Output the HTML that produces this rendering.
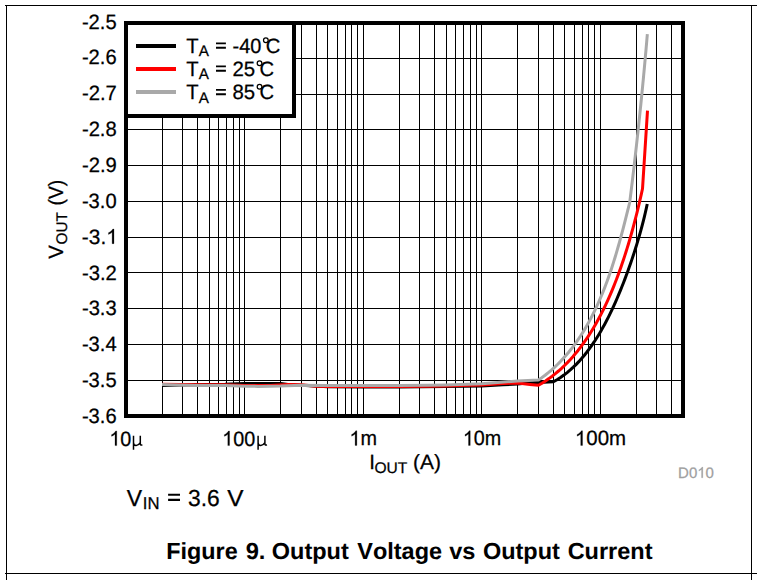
<!DOCTYPE html>
<html><head><meta charset="utf-8"><title>Figure 9. Output Voltage vs Output Current</title>
<style>
html,body{margin:0;padding:0;background:#fff;}
body{width:757px;height:580px;position:relative;overflow:hidden;font-family:"Liberation Sans",sans-serif;}
text{white-space:pre;text-rendering:geometricPrecision;font-kerning:none;}
</style></head><body>
<svg width="757" height="580" viewBox="0 0 757 580" style="position:absolute;left:0;top:0">
<g fill="#000" shape-rendering="crispEdges">
<rect x="5" y="5" width="752" height="1"/>
<rect x="6" y="5" width="1" height="575"/>
<rect x="751" y="5" width="1" height="575"/>
<rect x="5" y="573" width="752" height="1"/>
<rect x="162" y="24" width="1" height="391"/>
<rect x="182" y="24" width="1" height="391"/>
<rect x="197" y="24" width="1" height="391"/>
<rect x="209" y="24" width="1" height="391"/>
<rect x="218" y="24" width="1" height="391"/>
<rect x="226" y="24" width="1" height="391"/>
<rect x="233" y="24" width="1" height="391"/>
<rect x="239" y="24" width="1" height="391"/>
<rect x="244" y="24" width="1" height="391"/>
<rect x="280" y="24" width="1" height="391"/>
<rect x="301" y="24" width="1" height="391"/>
<rect x="316" y="24" width="1" height="391"/>
<rect x="327" y="24" width="1" height="391"/>
<rect x="337" y="24" width="1" height="391"/>
<rect x="345" y="24" width="1" height="391"/>
<rect x="351" y="24" width="1" height="391"/>
<rect x="357" y="24" width="1" height="391"/>
<rect x="363" y="24" width="1" height="391"/>
<rect x="399" y="24" width="1" height="391"/>
<rect x="419" y="24" width="1" height="391"/>
<rect x="434" y="24" width="1" height="391"/>
<rect x="446" y="24" width="1" height="391"/>
<rect x="455" y="24" width="1" height="391"/>
<rect x="463" y="24" width="1" height="391"/>
<rect x="470" y="24" width="1" height="391"/>
<rect x="476" y="24" width="1" height="391"/>
<rect x="481" y="24" width="1" height="391"/>
<rect x="517" y="24" width="1" height="391"/>
<rect x="538" y="24" width="1" height="391"/>
<rect x="553" y="24" width="1" height="391"/>
<rect x="564" y="24" width="1" height="391"/>
<rect x="574" y="24" width="1" height="391"/>
<rect x="582" y="24" width="1" height="391"/>
<rect x="588" y="24" width="1" height="391"/>
<rect x="594" y="24" width="1" height="391"/>
<rect x="600" y="24" width="1" height="391"/>
<rect x="636" y="24" width="1" height="391"/>
<rect x="656" y="24" width="1" height="391"/>
<rect x="671" y="24" width="1" height="391"/>
<rect x="127" y="58" width="555" height="1"/>
<rect x="127" y="94" width="555" height="1"/>
<rect x="127" y="129" width="555" height="1"/>
<rect x="127" y="165" width="555" height="1"/>
<rect x="127" y="201" width="555" height="1"/>
<rect x="127" y="237" width="555" height="1"/>
<rect x="127" y="272" width="555" height="1"/>
<rect x="127" y="308" width="555" height="1"/>
<rect x="127" y="344" width="555" height="1"/>
<rect x="127" y="380" width="555" height="1"/>
</g>
<polyline points="162,385.4 180,385.0 209,384.6 225,384.3 237,383.7 244.9,383.5 280.6,383.5 288,384.5 301.4,385.3 327.7,386.7 363,386.9 399,386.9 446,386.5 481.9,386.0 503,384.8 517.6,384.0 530,382.8 535,382.5 538.4,382.4 553.4,381.8 557.02,379.71 560.51,377.46 563.88,375.08 567.13,372.57 570.26,369.94 573.29,367.19 576.21,364.34 579.04,361.38 581.76,358.34 584.4,355.21 586.95,352.0 589.42,348.71 591.81,345.37 594.13,341.96 596.37,338.49 598.55,334.98 600.66,331.42 602.71,327.82 604.71,324.18 606.64,320.51 608.53,316.81 610.36,313.09 612.15,309.35 613.89,305.58 615.59,301.8 617.24,298.01 618.86,294.2 620.44,290.39 621.98,286.56 623.49,282.73 624.96,278.89 626.4,275.05 627.81,271.2 629.19,267.35 630.54,263.49 631.86,259.62 633.15,255.75 634.42,251.87 635.65,247.98 636.86,244.08 638.03,240.17 639.18,236.25 640.3,232.31 641.39,228.35 642.45,224.36 643.48,220.36 644.47,216.32 645.43,212.25 646.36,208.15 647.25,204.0" fill="none" stroke="#000" stroke-width="3.0" stroke-linejoin="round" stroke-linecap="butt"/>
<polyline points="162,384.3 180,384.5 195,384.7 225,384.75 244.9,385.4 270,385.4 288,384.6 301.4,384.8 316.2,386.3 327.7,386.45 363.4,386.45 399,386.5 428,386.3 446,386.0 460,385.55 481.9,384.9 503,383.4 517.6,383.0 530,384.4 538.4,385.3 542.0,383.18 545.49,380.95 548.89,378.61 552.19,376.17 555.4,373.64 558.52,371.01 561.56,368.3 564.5,365.5 567.37,362.63 570.15,359.68 572.86,356.67 575.49,353.58 578.04,350.44 580.52,347.23 582.94,343.97 585.28,340.65 587.56,337.29 589.78,333.88 591.93,330.43 594.03,326.93 596.07,323.4 598.05,319.84 599.97,316.24 601.85,312.61 603.67,308.96 605.44,305.28 607.17,301.57 608.85,297.85 610.49,294.1 612.08,290.34 613.63,286.56 615.14,282.76 616.61,278.95 618.05,275.13 619.45,271.3 620.82,267.46 622.15,263.6 623.45,259.74 624.72,255.87 625.95,251.99 627.16,248.11 628.35,244.21 629.5,240.31 630.63,236.41 631.74,232.49 632.82,228.57 633.88,224.64 634.92,220.7 635.93,216.75 636.93,212.8 637.9,208.83 638.86,204.85 639.79,200.86 640.71,196.86 641.61,192.84 642.5,188.8 647.5,110.6" fill="none" stroke="#f00" stroke-width="3.0" stroke-linejoin="round" stroke-linecap="butt"/>
<polyline points="162,384.5 180,385.0 195,385.4 225,385.45 244.9,386.2 258,386.4 280.6,386.1 301.4,385.35 327.7,385.45 363.4,385.5 399,385.55 428,385.35 446,385.0 460,384.55 481.9,383.75 517.6,381.0 538.4,380.0 541.8,377.66 545.11,375.21 548.33,372.66 551.46,370.03 554.5,367.3 557.46,364.49 560.34,361.59 563.13,358.62 565.84,355.58 568.47,352.47 571.03,349.3 573.5,346.07 575.91,342.78 578.24,339.43 580.51,336.04 582.7,332.59 584.83,329.11 586.89,325.58 588.89,322.02 590.82,318.41 592.7,314.78 594.52,311.12 596.28,307.42 597.99,303.71 599.64,299.96 601.25,296.2 602.81,292.42 604.31,288.62 605.78,284.8 607.2,280.97 608.58,277.12 609.92,273.26 611.23,269.4 612.5,265.52 613.73,261.63 614.94,257.73 616.11,253.83 617.26,249.92 618.38,246.0 619.49,242.08 620.57,238.15 621.63,234.22 622.67,230.28 623.7,226.33 624.72,222.38 625.73,218.42 626.73,214.45 627.72,210.48 628.71,206.49 629.7,202.5 630.21,198.4 630.72,194.3 631.22,190.2 631.72,186.09 632.22,181.99 632.71,177.89 633.2,173.79 633.68,169.68 634.16,165.58 634.63,161.48 635.1,157.37 635.57,153.27 636.04,149.16 636.49,145.06 636.95,140.95 637.4,136.85 637.85,132.74 638.29,128.63 638.73,124.53 639.16,120.42 639.59,116.31 640.02,112.21 640.44,108.1 640.86,103.99 641.28,99.88 641.69,95.77 642.09,91.66 642.49,87.55 642.89,83.44 643.29,79.33 643.68,75.22 644.06,71.11 644.44,67.0 644.82,62.89 645.19,58.78 645.56,54.67 645.93,50.55 646.29,46.44 646.65,42.33 647.0,38.21 647.35,34.1" fill="none" stroke="#a9a9a9" stroke-width="3.0" stroke-linejoin="round" stroke-linecap="butt"/>
<rect x="126" y="23" width="557" height="393" fill="none" stroke="#000" stroke-width="4" shape-rendering="crispEdges"/>
<rect x="126" y="23" width="168" height="93" fill="#fff" stroke="#000" stroke-width="4" shape-rendering="crispEdges"/>
<g shape-rendering="crispEdges">
<rect x="136" y="44" width="40" height="4" fill="#000"/>
<rect x="136" y="67" width="40" height="4" fill="#f00"/>
<rect x="136" y="90" width="40" height="4" fill="#a9a9a9"/>
</g>
<text transform="translate(81.90,28.50) scale(0.9831,1.01)" font-family="Liberation Sans" font-size="20.5" font-weight="normal" fill="#000" stroke="#000" stroke-width="0.25">-2.5</text>
<text transform="translate(81.90,64.36) scale(0.9840,1.01)" font-family="Liberation Sans" font-size="20.5" font-weight="normal" fill="#000" stroke="#000" stroke-width="0.25">-2.6</text>
<text transform="translate(81.90,100.22) scale(0.9878,1.01)" font-family="Liberation Sans" font-size="20.5" font-weight="normal" fill="#000" stroke="#000" stroke-width="0.25">-2.7</text>
<text transform="translate(81.90,136.08) scale(0.9852,1.01)" font-family="Liberation Sans" font-size="20.5" font-weight="normal" fill="#000" stroke="#000" stroke-width="0.25">-2.8</text>
<text transform="translate(81.90,171.94) scale(0.9863,1.01)" font-family="Liberation Sans" font-size="20.5" font-weight="normal" fill="#000" stroke="#000" stroke-width="0.25">-2.9</text>
<text transform="translate(81.90,207.80) scale(0.9822,1.01)" font-family="Liberation Sans" font-size="20.5" font-weight="normal" fill="#000" stroke="#000" stroke-width="0.25">-3.0</text>
<g transform="translate(81.87,243.66)" fill="#000" stroke="#000" stroke-width="0.25"><text transform="scale(1.0169,1.01)" x="0.00 6.81 18.22 23.92" font-family="Liberation Sans" font-size="20.5" font-weight="normal">-3. </text><path transform="translate(24.33,0) scale(0.010179,-0.009940)" d="M763 0H583V1147Q518 1085 412.5 1023T223 930V1104Q374 1175 487 1276T647 1472H763Z" stroke-width="25.0"/></g>
<text transform="translate(81.90,279.52) scale(0.9878,1.01)" font-family="Liberation Sans" font-size="20.5" font-weight="normal" fill="#000" stroke="#000" stroke-width="0.25">-3.2</text>
<text transform="translate(81.90,315.38) scale(0.9855,1.01)" font-family="Liberation Sans" font-size="20.5" font-weight="normal" fill="#000" stroke="#000" stroke-width="0.25">-3.3</text>
<text transform="translate(81.90,351.24) scale(0.9828,1.01)" font-family="Liberation Sans" font-size="20.5" font-weight="normal" fill="#000" stroke="#000" stroke-width="0.25">-3.4</text>
<text transform="translate(81.90,387.10) scale(0.9831,1.01)" font-family="Liberation Sans" font-size="20.5" font-weight="normal" fill="#000" stroke="#000" stroke-width="0.25">-3.5</text>
<text transform="translate(81.90,422.96) scale(0.9840,1.01)" font-family="Liberation Sans" font-size="20.5" font-weight="normal" fill="#000" stroke="#000" stroke-width="0.25">-3.6</text>
<g transform="translate(109.38,445.60)" fill="#000" stroke="#000" stroke-width="0.25"><text transform="scale(0.9654,1.01)" x="0.00 11.39" font-family="Liberation Sans" font-size="20.5" font-weight="normal"> 0</text><path transform="translate(0.00,0) scale(0.009663,-0.009940)" d="M763 0H583V1147Q518 1085 412.5 1023T223 930V1104Q374 1175 487 1276T647 1472H763Z" stroke-width="25.0"/></g>
<g transform="translate(222.18,445.60)" fill="#000" stroke="#000" stroke-width="0.25"><text transform="scale(0.9650,1.01)" x="0.00 11.39 22.80" font-family="Liberation Sans" font-size="20.5" font-weight="normal"> 00</text><path transform="translate(0.00,0) scale(0.009659,-0.009940)" d="M763 0H583V1147Q518 1085 412.5 1023T223 930V1104Q374 1175 487 1276T647 1472H763Z" stroke-width="25.0"/></g>
<g transform="translate(349.47,445.40)" fill="#000" stroke="#000" stroke-width="0.25"><text transform="scale(0.9680,1.01)" x="0.00 11.39" font-family="Liberation Sans" font-size="20.5" font-weight="normal"> m</text><path transform="translate(0.00,0) scale(0.009690,-0.009940)" d="M763 0H583V1147Q518 1085 412.5 1023T223 930V1104Q374 1175 487 1276T647 1472H763Z" stroke-width="25.0"/></g>
<g transform="translate(462.88,445.40)" fill="#000" stroke="#000" stroke-width="0.25"><text transform="scale(0.9639,1.01)" x="0.00 11.39 22.80" font-family="Liberation Sans" font-size="20.5" font-weight="normal"> 0m</text><path transform="translate(0.00,0) scale(0.009648,-0.009940)" d="M763 0H583V1147Q518 1085 412.5 1023T223 930V1104Q374 1175 487 1276T647 1472H763Z" stroke-width="25.0"/></g>
<g transform="translate(574.91,445.40)" fill="#000" stroke="#000" stroke-width="0.25"><text transform="scale(0.9981,1.01)" x="0.00 11.39 22.80 34.20" font-family="Liberation Sans" font-size="20.5" font-weight="normal"> 00m</text><path transform="translate(0.00,0) scale(0.009991,-0.009940)" d="M763 0H583V1147Q518 1085 412.5 1023T223 930V1104Q374 1175 487 1276T647 1472H763Z" stroke-width="25.0"/></g>
<text transform="translate(369.35,468.60) scale(1.0000,1.01)" font-family="Liberation Sans" font-size="20.5" font-weight="normal" fill="#000" stroke="#000" stroke-width="0.25">I</text>
<text transform="translate(374.51,472.60) scale(1.0242,1.01)" font-family="Liberation Sans" font-size="15.2" font-weight="normal" fill="#000" stroke="#000" stroke-width="0.25">OUT</text>
<text transform="translate(413.12,468.60) scale(1.0227,1.01)" font-family="Liberation Sans" font-size="20.5" font-weight="normal" fill="#000" stroke="#000" stroke-width="0.25">(A)</text>
<g transform="translate(678.07,477.80)" fill="#a0a0a0" stroke="#a0a0a0" stroke-width="0.25"><text transform="scale(1.0006,1.01)" x="0.00 10.83 19.17 27.52" font-family="Liberation Sans" font-size="15" font-weight="normal">D0 0</text><path transform="translate(19.18,0) scale(0.007328,-0.007273)" d="M763 0H583V1147Q518 1085 412.5 1023T223 930V1104Q374 1175 487 1276T647 1472H763Z" stroke-width="34.1"/></g>
<text transform="translate(126.79,505.80) scale(0.9980,1.01)" font-family="Liberation Sans" font-size="23" font-weight="normal" fill="#000" stroke="#000" stroke-width="0.25">V</text>
<text transform="translate(142.80,509.30) scale(0.9826,1.01)" font-family="Liberation Sans" font-size="17" font-weight="normal" fill="#000" stroke="#000" stroke-width="0.25">IN</text>
<text transform="translate(187.96,505.80) scale(0.9931,1.01)" font-family="Liberation Sans" font-size="23" font-weight="normal" fill="#000" stroke="#000" stroke-width="0.25">3.6</text>
<text transform="translate(227.16,505.80) scale(1.0583,1.01)" font-family="Liberation Sans" font-size="23" font-weight="normal" fill="#000" stroke="#000" stroke-width="0.25">V</text>
<text transform="translate(166.27,558.70) scale(1.0030,1.0)" font-family="Liberation Sans" font-size="23.3" font-weight="bold" fill="#000" stroke="#000" stroke-width="0.05">Figure</text>
<text transform="translate(245.66,558.70) scale(1.0169,1.0)" font-family="Liberation Sans" font-size="23.3" font-weight="bold" fill="#000" stroke="#000" stroke-width="0.05">9.</text>
<text transform="translate(271.84,558.70) scale(1.0076,1.0)" font-family="Liberation Sans" font-size="23.3" font-weight="bold" fill="#000" stroke="#000" stroke-width="0.05">Output</text>
<text transform="translate(357.28,558.70) scale(1.0072,1.0)" font-family="Liberation Sans" font-size="23.3" font-weight="bold" fill="#000" stroke="#000" stroke-width="0.05">Voltage</text>
<text transform="translate(449.16,558.70) scale(1.0102,1.0)" font-family="Liberation Sans" font-size="23.3" font-weight="bold" fill="#000" stroke="#000" stroke-width="0.05">vs</text>
<text transform="translate(482.94,558.70) scale(1.0076,1.0)" font-family="Liberation Sans" font-size="23.3" font-weight="bold" fill="#000" stroke="#000" stroke-width="0.05">Output</text>
<text transform="translate(567.65,558.70) scale(1.0086,1.0)" font-family="Liberation Sans" font-size="23.3" font-weight="bold" fill="#000" stroke="#000" stroke-width="0.05">Current</text>
<text transform="translate(186.18,52.50) scale(0.9883,1.01)" font-family="Liberation Sans" font-size="20.5" font-weight="normal" fill="#000" stroke="#000" stroke-width="0.25">T</text>
<text transform="translate(198.65,56.30) scale(1.0020,1.01)" font-family="Liberation Sans" font-size="15.2" font-weight="normal" fill="#000" stroke="#000" stroke-width="0.25">A</text>
<text transform="translate(232.51,52.50) scale(0.9714,1.01)" font-family="Liberation Sans" font-size="20.5" font-weight="normal" fill="#000" stroke="#000" stroke-width="0.25">-40</text>
<text transform="translate(265.81,52.50) scale(0.9859,1.01)" font-family="Liberation Sans" font-size="20.5" font-weight="normal" fill="#000" stroke="#000" stroke-width="0.25">C</text>
<text transform="translate(186.18,75.50) scale(0.9883,1.01)" font-family="Liberation Sans" font-size="20.5" font-weight="normal" fill="#000" stroke="#000" stroke-width="0.25">T</text>
<text transform="translate(198.65,79.30) scale(1.0020,1.01)" font-family="Liberation Sans" font-size="15.2" font-weight="normal" fill="#000" stroke="#000" stroke-width="0.25">A</text>
<text transform="translate(232.42,75.50) scale(0.9967,1.01)" font-family="Liberation Sans" font-size="20.5" font-weight="normal" fill="#000" stroke="#000" stroke-width="0.25">25</text>
<text transform="translate(259.51,75.50) scale(0.9859,1.01)" font-family="Liberation Sans" font-size="20.5" font-weight="normal" fill="#000" stroke="#000" stroke-width="0.25">C</text>
<text transform="translate(186.18,99.00) scale(0.9883,1.01)" font-family="Liberation Sans" font-size="20.5" font-weight="normal" fill="#000" stroke="#000" stroke-width="0.25">T</text>
<text transform="translate(198.65,102.80) scale(1.0020,1.01)" font-family="Liberation Sans" font-size="15.2" font-weight="normal" fill="#000" stroke="#000" stroke-width="0.25">A</text>
<text transform="translate(232.49,99.00) scale(0.9934,1.01)" font-family="Liberation Sans" font-size="20.5" font-weight="normal" fill="#000" stroke="#000" stroke-width="0.25">85</text>
<text transform="translate(259.51,99.00) scale(0.9859,1.01)" font-family="Liberation Sans" font-size="20.5" font-weight="normal" fill="#000" stroke="#000" stroke-width="0.25">C</text>
<text transform="translate(63.20,258.78) rotate(-90) scale(0.9895,1.01)" font-family="Liberation Sans" font-size="20.5" font-weight="normal" fill="#000" stroke="#000" stroke-width="0.25">V</text>
<text transform="translate(67.40,244.38) rotate(-90) scale(1.0081,1.01)" font-family="Liberation Sans" font-size="15.2" font-weight="normal" fill="#000" stroke="#000" stroke-width="0.25">OUT</text>
<text transform="translate(63.20,205.38) rotate(-90) scale(0.9391,1.01)" font-family="Liberation Sans" font-size="20.5" font-weight="normal" fill="#000" stroke="#000" stroke-width="0.25">(V)</text>
<path transform="translate(132.4,445.6)" d="M1.1,-9.9V4.1M1.1,-3.2C1.1,0.6 5.6,0.9 7.9,-3.0M7.9,-9.9V-1.6Q7.9,-0.1 10.0,-0.7" fill="none" stroke="#000" stroke-width="1.5"/>
<path transform="translate(257.0,445.6)" d="M1.1,-9.9V4.1M1.1,-3.2C1.1,0.6 5.6,0.9 7.9,-3.0M7.9,-9.9V-1.6Q7.9,-0.1 10.0,-0.7" fill="none" stroke="#000" stroke-width="1.5"/>
<path d="M168.1 493.75H180.0V495.85H168.1ZM168.1 498.85H180.0V500.95H168.1Z" fill="#000"/>
<path d="M216.0 42.45H225.9V44.35H216.0ZM216.0 46.80H225.9V48.70H216.0Z" fill="#000"/>
<path d="M216.0 65.45H225.9V67.35H216.0ZM216.0 69.80H225.9V71.70H216.0Z" fill="#000"/>
<path d="M216.0 88.95H225.9V90.85H216.0ZM216.0 93.30H225.9V95.20H216.0Z" fill="#000"/>
<circle cx="265.84999999999997" cy="40.3" r="2.35" fill="none" stroke="#000" stroke-width="1.25"/>
<circle cx="259.55" cy="63.3" r="2.35" fill="none" stroke="#000" stroke-width="1.25"/>
<circle cx="259.55" cy="86.8" r="2.35" fill="none" stroke="#000" stroke-width="1.25"/>
</svg>
</body></html>
